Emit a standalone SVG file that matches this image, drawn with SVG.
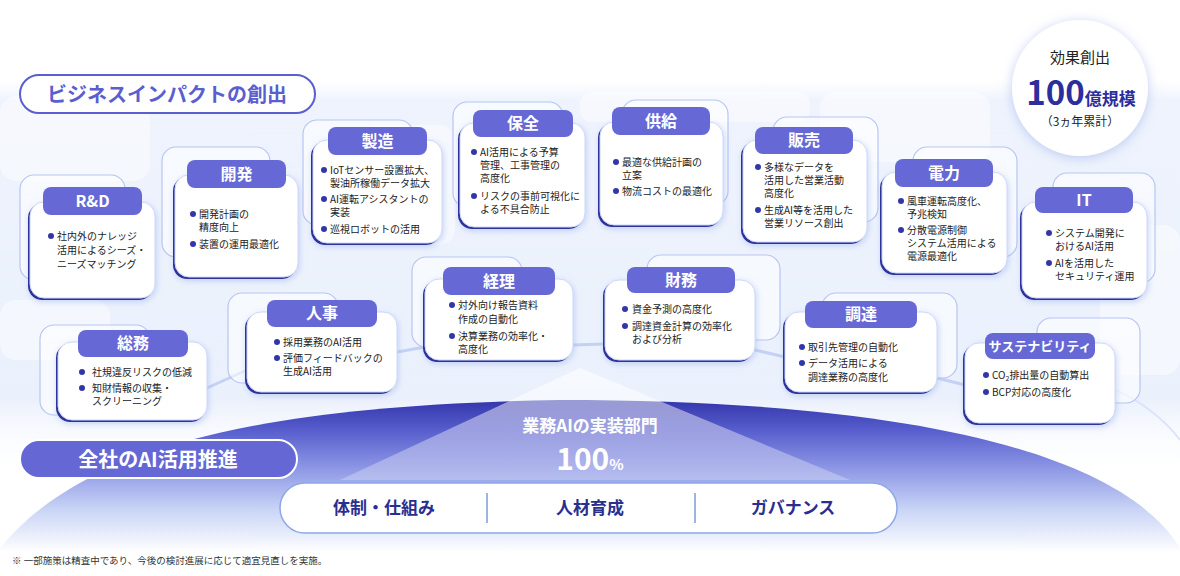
<svg xmlns="http://www.w3.org/2000/svg" width="1180" height="576" viewBox="0 0 1180 576">
<defs>
<style>
text{font-family:"Noto Sans CJK JP","Noto Sans",sans-serif}
.back{fill:#ffffff;fill-opacity:.55;stroke:#b7c5f3;stroke-width:1.2}
.edge{fill:#2f329d}
.body{fill:#ffffff;stroke:#cdd8f7;stroke-width:1}
.hd{fill:#6668d6}
.ht{font-size:16px;font-weight:700;fill:#ffffff;text-anchor:middle}
.tx{font-size:10px;fill:#222222}
.dot{fill:#3336a8}
.ghost{fill:#ffffff;fill-opacity:.45}
.link{fill:none;stroke:#c3d1f5;stroke-width:3;stroke-linecap:round}
.pt{font-size:17px;font-weight:700;fill:#2a2f8f;text-anchor:middle}
</style>
<linearGradient id="band" x1="0" y1="80" x2="0" y2="480" gradientUnits="userSpaceOnUse">
<stop offset="0" stop-color="#f3f6fe" stop-opacity="0"/>
<stop offset="0.05" stop-color="#eef3fd"/>
<stop offset="0.8" stop-color="#ebf1fc"/>
<stop offset="1" stop-color="#ffffff" stop-opacity="0"/>
</linearGradient>
<linearGradient id="dome" x1="0" y1="400" x2="0" y2="552" gradientUnits="userSpaceOnUse">
<stop offset="0" stop-color="#3336ab"/>
<stop offset="0.2" stop-color="#585ecd"/>
<stop offset="0.45" stop-color="#8d97e5"/>
<stop offset="0.72" stop-color="#c9d4f6"/>
<stop offset="1" stop-color="#ffffff"/>
</linearGradient>
<linearGradient id="beam" x1="0" y1="368" x2="0" y2="480" gradientUnits="userSpaceOnUse">
<stop offset="0" stop-color="#ffffff" stop-opacity="0.6"/>
<stop offset="1" stop-color="#ffffff" stop-opacity="0.25"/>
</linearGradient>
<filter id="glow" x="-20%" y="-20%" width="140%" height="140%">
<feDropShadow dx="1" dy="2" stdDeviation="3" flood-color="#9fb2ee" flood-opacity="0.55"/>
</filter>
<filter id="cglow" x="-30%" y="-30%" width="160%" height="160%">
<feDropShadow dx="0" dy="2" stdDeviation="6" flood-color="#9fb0ea" flood-opacity="0.6"/>
</filter>
</defs>

<rect x="0" y="0" width="1180" height="576" fill="#ffffff"/>
<g id="background">
<rect x="0" y="80" width="1180" height="400" fill="url(#band)"/>
<rect class="ghost" x="0" y="96" width="150" height="85" rx="16"/>
<rect class="ghost" x="360" y="125" width="95" height="120" rx="16"/>
<rect class="ghost" x="820" y="92" width="170" height="70" rx="16"/>
<rect class="ghost" x="1100" y="225" width="80" height="150" rx="16"/>
<rect class="ghost" x="0" y="300" width="110" height="60" rx="16"/>
<rect class="ghost" x="580" y="92" width="230" height="30" rx="12"/>
</g>

<g id="connectors">
<path class="link" d="M207,388 L247,370"/>
<path class="link" d="M397,352 L425,347"/>
<path class="link" d="M573,345 L605,344"/>
<path class="link" d="M755,350 L785,357"/>
<path class="link" d="M937,378 L965,385"/>
<path fill="none" stroke="#dce4fa" stroke-width="2" d="M1115,390 C1140,400 1165,420 1180,440"/>
</g>

<g id="dome">
<path d="M0,548 C80,450 250,405 560,400 C900,400 1120,450 1180,548 L1180,552 L0,552 Z" fill="url(#dome)"/>
<polygon points="580,368 340,480 850,480" fill="url(#beam)"/>
<text x="590" y="432" font-size="17" font-weight="700" fill="#ffffff" text-anchor="middle">業務AIの実装部門</text>
<text x="590" y="470" fill="#ffffff" text-anchor="middle" font-weight="700"><tspan font-size="30">100</tspan><tspan font-size="15">%</tspan></text>
</g>

<g id="title">
<rect x="20" y="75" width="295" height="38" rx="19" fill="#ffffff" stroke="#5a5ecf" stroke-width="2"/>
<text x="167" y="102" font-size="20" font-weight="700" fill="#5a5ecf" text-anchor="middle">ビジネスインパクトの創出</text>
</g>

<g id="effect">
<circle cx="1080" cy="88" r="68" fill="#ffffff" filter="url(#cglow)"/>
<text x="1080" y="63" font-size="15" fill="#222222" text-anchor="middle">効果創出</text>
<text x="1081" y="105" fill="#2b2e9c" text-anchor="middle" font-weight="700"><tspan font-size="33">100</tspan><tspan font-size="17">億規模</tspan></text>
<text x="1080" y="126" font-size="12" fill="#222222" text-anchor="middle">（3ヵ年累計）</text>
</g>

<g id="card-rd">
<rect class="back" x="20" y="175" width="105" height="105" rx="14"/>
<g filter="url(#glow)"><rect class="edge" x="28" y="204" width="125" height="96" rx="14"/><rect class="body" x="30" y="202" width="125" height="96" rx="14"/></g>
<rect class="hd" x="43" y="187" width="99" height="28" rx="8"/>
<text class="ht" x="92.5" y="206.5">R&amp;D</text>
<circle class="dot" cx="51" cy="236" r="3"/>
<text class="tx" x="57" y="240">社内外のナレッジ</text>
<text class="tx" x="57" y="254">活用によるシーズ・</text>
<text class="tx" x="57" y="268">ニーズマッチング</text>
</g>

<g id="card-kaihatsu">
<rect class="back" x="162" y="147" width="108" height="110" rx="14"/>
<g filter="url(#glow)"><rect class="edge" x="173" y="177" width="123" height="102" rx="14"/><rect class="body" x="175" y="175" width="123" height="102" rx="14"/></g>
<rect class="hd" x="187" y="160" width="99" height="28" rx="8"/>
<text class="ht" x="236.5" y="179.5">開発</text>
<circle class="dot" cx="193" cy="214" r="3"/>
<text class="tx" x="199" y="218">開発計画の</text>
<text class="tx" x="199" y="231">精度向上</text>
<circle class="dot" cx="193" cy="244" r="3"/>
<text class="tx" x="199" y="248">装置の運用最適化</text>
</g>

<g id="card-seizo">
<rect class="back" x="303" y="120" width="110" height="105" rx="14"/>
<g filter="url(#glow)"><rect class="edge" x="311" y="142" width="129" height="103" rx="14"/><rect class="body" x="313" y="140" width="129" height="103" rx="14"/></g>
<rect class="hd" x="328" y="127" width="99" height="28" rx="8"/>
<text class="ht" x="377.5" y="146.5">製造</text>
<circle class="dot" cx="324" cy="170" r="3"/>
<text class="tx" x="330" y="174">IoTセンサー設置拡大、</text>
<text class="tx" x="330" y="187">製油所稼働データ拡大</text>
<circle class="dot" cx="324" cy="199" r="3"/>
<text class="tx" x="330" y="203">AI運転アシスタントの</text>
<text class="tx" x="330" y="216">実装</text>
<circle class="dot" cx="324" cy="229" r="3"/>
<text class="tx" x="330" y="233">巡視ロボットの活用</text>
</g>

<g id="card-hozen">
<rect class="back" x="453" y="102" width="110" height="105" rx="14"/>
<g filter="url(#glow)"><rect class="edge" x="458" y="125" width="125" height="104" rx="14"/><rect class="body" x="460" y="123" width="125" height="104" rx="14"/></g>
<rect class="hd" x="473" y="110" width="100" height="27" rx="8"/>
<text class="ht" x="523" y="129">保全</text>
<circle class="dot" cx="474" cy="152" r="3"/>
<text class="tx" x="480" y="156">AI活用による予算</text>
<text class="tx" x="480" y="169">管理、工事管理の</text>
<text class="tx" x="480" y="182">高度化</text>
<circle class="dot" cx="474" cy="196" r="3"/>
<text class="tx" x="480" y="200">リスクの事前可視化に</text>
<text class="tx" x="480" y="213">よる不具合防止</text>
</g>

<g id="card-kyokyu">
<rect class="back" x="622" y="100" width="106" height="105" rx="14"/>
<g filter="url(#glow)"><rect class="edge" x="598" y="124" width="123" height="103" rx="14"/><rect class="body" x="600" y="122" width="123" height="103" rx="14"/></g>
<rect class="hd" x="612" y="107" width="98" height="28" rx="8"/>
<text class="ht" x="661" y="126.5">供給</text>
<circle class="dot" cx="616" cy="162" r="3"/>
<text class="tx" x="622" y="166">最適な供給計画の</text>
<text class="tx" x="622" y="179">立案</text>
<circle class="dot" cx="616" cy="191" r="3"/>
<text class="tx" x="622" y="195">物流コストの最適化</text>
</g>

<g id="card-hanbai">
<rect class="back" x="773" y="117" width="105" height="105" rx="14"/>
<g filter="url(#glow)"><rect class="edge" x="741" y="142" width="124" height="102" rx="14"/><rect class="body" x="743" y="140" width="124" height="102" rx="14"/></g>
<rect class="hd" x="755" y="127" width="98" height="27" rx="8"/>
<text class="ht" x="804" y="146">販売</text>
<circle class="dot" cx="758" cy="167" r="3"/>
<text class="tx" x="764" y="171">多様なデータを</text>
<text class="tx" x="764" y="184">活用した営業活動</text>
<text class="tx" x="764" y="197">高度化</text>
<circle class="dot" cx="758" cy="210" r="3"/>
<text class="tx" x="764" y="214">生成AI等を活用した</text>
<text class="tx" x="764" y="227">営業リソース創出</text>
</g>

<g id="card-denryoku">
<rect class="back" x="913" y="147" width="104" height="110" rx="14"/>
<g filter="url(#glow)"><rect class="edge" x="880" y="174" width="125" height="101" rx="14"/><rect class="body" x="882" y="172" width="125" height="101" rx="14"/></g>
<rect class="hd" x="895" y="159" width="98" height="28" rx="8"/>
<text class="ht" x="944" y="178.5">電力</text>
<circle class="dot" cx="901" cy="201" r="3"/>
<text class="tx" x="907" y="205">風車運転高度化、</text>
<text class="tx" x="907" y="218">予兆検知</text>
<circle class="dot" cx="901" cy="230" r="3"/>
<text class="tx" x="907" y="234">分散電源制御</text>
<text class="tx" x="907" y="247">システム活用による</text>
<text class="tx" x="907" y="260">電源最適化</text>
</g>

<g id="card-it">
<rect class="back" x="1053" y="173" width="102" height="110" rx="14"/>
<g filter="url(#glow)"><rect class="edge" x="1020" y="204" width="125" height="96" rx="14"/><rect class="body" x="1022" y="202" width="125" height="96" rx="14"/></g>
<rect class="hd" x="1035" y="187" width="98" height="26" rx="8"/>
<text class="ht" x="1084" y="205.5">IT</text>
<circle class="dot" cx="1049" cy="233" r="3"/>
<text class="tx" x="1055" y="237">システム開発に</text>
<text class="tx" x="1055" y="250">おけるAI活用</text>
<circle class="dot" cx="1049" cy="263" r="3"/>
<text class="tx" x="1055" y="267">AIを活用した</text>
<text class="tx" x="1055" y="280">セキュリティ運用</text>
</g>

<g id="card-somu">
<rect class="back" x="40" y="325" width="110" height="90" rx="14"/>
<g filter="url(#glow)"><rect class="edge" x="56" y="344" width="149" height="78" rx="14"/><rect class="body" x="58" y="342" width="149" height="78" rx="14"/></g>
<rect class="hd" x="78" y="330" width="110" height="27" rx="8"/>
<text class="ht" x="133" y="349">総務</text>
<circle class="dot" cx="82" cy="372" r="3"/>
<text class="tx" x="92" y="376">社規違反リスクの低減</text>
<circle class="dot" cx="82" cy="388" r="3"/>
<text class="tx" x="92" y="392">知財情報の収集・</text>
<text class="tx" x="92" y="405">スクリーニング</text>
</g>

<g id="card-jinji">
<rect class="back" x="228" y="293" width="110" height="90" rx="14"/>
<g filter="url(#glow)"><rect class="edge" x="245" y="314" width="150" height="80" rx="14"/><rect class="body" x="247" y="312" width="150" height="80" rx="14"/></g>
<rect class="hd" x="267" y="300" width="110" height="27" rx="8"/>
<text class="ht" x="322" y="319">人事</text>
<circle class="dot" cx="277" cy="342" r="3"/>
<text class="tx" x="283" y="346">採用業務のAI活用</text>
<circle class="dot" cx="277" cy="358" r="3"/>
<text class="tx" x="283" y="362">評価フィードバックの</text>
<text class="tx" x="283" y="375">生成AI活用</text>
</g>

<g id="card-keiri">
<rect class="back" x="412" y="257" width="110" height="90" rx="14"/>
<g filter="url(#glow)"><rect class="edge" x="423" y="281" width="148" height="81" rx="14"/><rect class="body" x="425" y="279" width="148" height="81" rx="14"/></g>
<rect class="hd" x="443" y="267" width="112" height="28" rx="8"/>
<text class="ht" x="499" y="286.5">経理</text>
<circle class="dot" cx="452" cy="305" r="3"/>
<text class="tx" x="458" y="309">対外向け報告資料</text>
<text class="tx" x="458" y="323">作成の自動化</text>
<circle class="dot" cx="452" cy="336" r="3"/>
<text class="tx" x="458" y="340">決算業務の効率化・</text>
<text class="tx" x="458" y="353">高度化</text>
</g>

<g id="card-zaimu">
<rect class="back" x="647" y="255" width="133" height="85" rx="14"/>
<g filter="url(#glow)"><rect class="edge" x="603" y="282" width="150" height="80" rx="14"/><rect class="body" x="605" y="280" width="150" height="80" rx="14"/></g>
<rect class="hd" x="627" y="267" width="108" height="26" rx="8"/>
<text class="ht" x="681" y="285.5">財務</text>
<circle class="dot" cx="625" cy="309" r="3"/>
<text class="tx" x="632" y="313">資金予測の高度化</text>
<circle class="dot" cx="625" cy="326" r="3"/>
<text class="tx" x="632" y="330">調達資金計算の効率化</text>
<text class="tx" x="632" y="343">および分析</text>
</g>

<g id="card-chotatsu">
<rect class="back" x="822" y="293" width="135" height="85" rx="14"/>
<g filter="url(#glow)"><rect class="edge" x="783" y="314" width="152" height="80" rx="14"/><rect class="body" x="785" y="312" width="152" height="80" rx="14"/></g>
<rect class="hd" x="805" y="301" width="112" height="27" rx="8"/>
<text class="ht" x="861" y="320">調達</text>
<circle class="dot" cx="802" cy="347" r="3"/>
<text class="tx" x="808" y="351">取引先管理の自動化</text>
<circle class="dot" cx="802" cy="363" r="3"/>
<text class="tx" x="808" y="367">データ活用による</text>
<text class="tx" x="808" y="381">調達業務の高度化</text>
</g>

<g id="card-sustainability">
<rect class="back" x="1037" y="318" width="103" height="85" rx="14"/>
<g filter="url(#glow)"><rect class="edge" x="963" y="345" width="150" height="80" rx="14"/><rect class="body" x="965" y="343" width="150" height="80" rx="14"/></g>
<rect class="hd" x="985" y="333" width="110" height="26" rx="8"/>
<text class="ht" x="1040" y="351" style="font-size:13px">サステナビリティ</text>
<circle class="dot" cx="986" cy="375" r="3"/>
<text class="tx" x="992" y="379">CO<tspan font-size="7" dy="2">2</tspan><tspan dy="-2">排出量の自動算出</tspan></text>
<circle class="dot" cx="986" cy="392" r="3"/>
<text class="tx" x="992" y="396">BCP対応の高度化</text>
</g>

<g id="promotion">
<rect x="20" y="440" width="277" height="38" rx="19" fill="#6567d4" stroke="#ffffff" stroke-width="2"/>
<text x="158" y="467" font-size="20" font-weight="700" fill="#ffffff" text-anchor="middle">全社のAI活用推進</text>
</g>

<g id="foundation">
<rect x="280" y="483" width="617" height="50" rx="25" fill="#ffffff" stroke="#8ea7e8" stroke-width="1.5"/>
<line x1="487" y1="493" x2="487" y2="523" stroke="#7d9ad8" stroke-width="1.5"/>
<line x1="695" y1="493" x2="695" y2="523" stroke="#7d9ad8" stroke-width="1.5"/>
<text class="pt" x="384" y="514">体制・仕組み</text>
<text class="pt" x="590" y="514">人材育成</text>
<text class="pt" x="793" y="514">ガバナンス</text>
</g>

<text x="12" y="564" font-size="9.5" fill="#333333">※ 一部施策は精査中であり、今後の検討進展に応じて適宜見直しを実施。</text>
</svg>
